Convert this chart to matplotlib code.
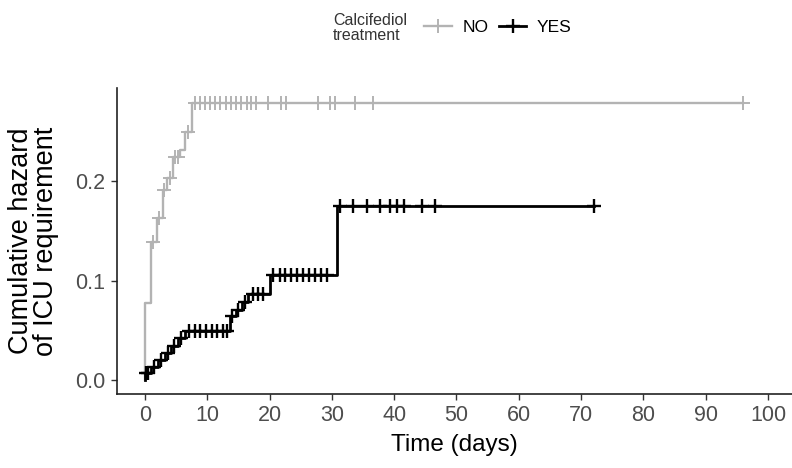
import matplotlib
matplotlib.use("Agg")
import matplotlib.pyplot as plt
from matplotlib.lines import Line2D

# Cumulative hazard (step functions)
no_times = [0, 0, 1.0, 1.9, 2.9, 3.6, 4.5, 5.7, 6.4, 7.5, 96]
no_haz = [0, 0.078, 0.139, 0.163, 0.191, 0.203, 0.225, 0.232, 0.250, 0.279, 0.279]
no_cens_t = [1.3, 2.3, 3.1, 4.0, 4.9, 5.3, 6.9,
             8.0, 8.8, 9.7, 10.5, 11.3, 12.1, 13.0, 13.8, 14.6, 15.4, 16.3, 17.1, 17.9,
             19.8, 21.9, 22.7, 27.8, 29.7, 30.5, 33.7, 36.6, 96]

yes_times = [0, 0, 1.0, 2.1, 3.2, 4.2, 5.3, 6.5, 13.6, 14.6, 15.6, 16.6, 20.1, 30.8, 72]
yes_haz = [0, 0.007, 0.0135, 0.0205, 0.0275, 0.0345, 0.042, 0.049,
           0.064, 0.071, 0.079, 0.087, 0.106, 0.175, 0.175]
yes_cens_t = [0.2, 0.5, 1.5, 2.6, 3.7, 4.7, 5.8,
              7.1, 8.0, 8.9, 9.8, 10.7, 11.6, 12.5, 13.2,
              14.0, 15.0, 16.0, 17.3, 18.1, 18.9,
              20.6, 21.6, 22.5, 23.5, 24.4, 25.4, 26.3, 27.3, 28.3, 29.2,
              31.3, 33.4, 35.6, 37.7, 39.3, 40.4, 41.5, 44.4, 46.5, 72]

x_ticks = list(range(0, 101, 10))
y_ticks = [0.0, 0.1, 0.2]

gray = "#b3b3b3"
plt.rcParams["font.family"] = ["Liberation Sans", "DejaVu Sans"]


def step_value(times, haz, t):
    # value of a right-continuous step function at time t
    v = haz[0]
    for ti, hi in zip(times, haz):
        if ti <= t:
            v = hi
    return v


fig = plt.figure(figsize=(7.92, 4.68), dpi=100)
ax = fig.add_axes([0.1473, 0.1581, 0.8527, 0.6532])

ax.step(no_times, no_haz, where="post", color=gray, lw=1.7)
ax.step(yes_times, yes_haz, where="post", color="black", lw=2.0)

ax.plot(no_cens_t, [step_value(no_times, no_haz, t) for t in no_cens_t],
        ls="none", marker="+", ms=10, mew=1.4, color=gray)
ax.plot(yes_cens_t, [step_value(yes_times, yes_haz, t) for t in yes_cens_t],
        ls="none", marker="+", ms=10, mew=1.7, color="black")

ax.set_xlim(-4.54, 103.85)
ax.set_ylim(-0.0141, 0.2938)
ax.set_xticks(x_ticks)
ax.set_yticks(y_ticks)
ax.set_xticklabels([str(v) for v in x_ticks], fontsize=15.5, color="#4d4d4d")
ax.set_yticklabels(["%.1f" % v for v in y_ticks], fontsize=15.5, color="#4d4d4d")
ax.tick_params(length=4, width=1, color="#333333", pad=4)

for s in ["top", "right"]:
    ax.spines[s].set_visible(False)
for s in ["left", "bottom"]:
    ax.spines[s].set_linewidth(1.2)
    ax.spines[s].set_color("#222222")

ax.set_xlabel("Time (days)", fontsize=17.5, labelpad=6)
ax.set_ylabel("Cumulative hazard\nof ICU requirement", fontsize=19.5, linespacing=0.95, labelpad=12)

# legend at top
fig.text(333 / 792, 1 - 28 / 468, "Calcifediol\ntreatment", fontsize=11.5,
         ha="left", va="center", linespacing=1.05, color="#333333")
handles = [Line2D([], [], color=gray, lw=1.7, marker="+", ms=10, mew=1.4),
           Line2D([], [], color="black", lw=2.0, marker="+", ms=10, mew=1.7)]
fig.legend(handles, ["NO", "YES"], loc="center left", bbox_to_anchor=(424 / 792, 1 - 27 / 468),
           ncol=2, frameon=False, prop={"size": 12.5},
           handlelength=1.6, handletextpad=0.6, columnspacing=0.6, borderpad=0, borderaxespad=0)

fig.savefig("out.png", dpi=100)
